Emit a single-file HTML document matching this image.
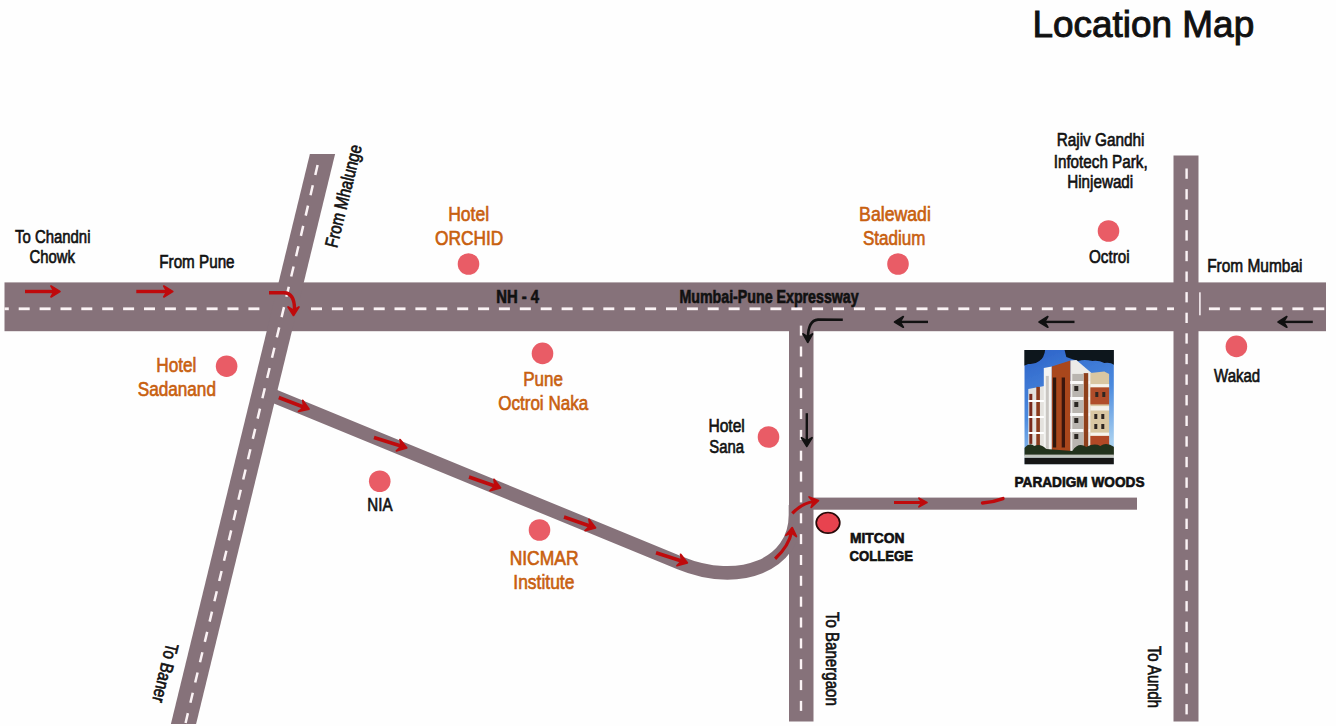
<!DOCTYPE html><html><head><meta charset="utf-8"><title>Location Map</title><style>html,body{margin:0;padding:0;background:#fff;overflow:hidden}svg{display:block}text{font-family:"Liberation Sans",sans-serif}</style></head><body>
<svg width="1336" height="726" viewBox="0 0 1336 726">
<rect width="1336" height="726" fill="#fefefe"/>
<g fill="#86727a">
<rect x="4.5" y="282.4" width="1321.5" height="48.8"/>
<polygon points="309.9,154 335.1,154 196.1,724 170.9,724"/>
<rect x="789" y="320" width="24.5" height="401.5"/>
<rect x="1173.5" y="155.5" width="25" height="566"/>
<rect x="812" y="497.6" width="325" height="12.1"/>
</g>
<path d="M 268,393.6 L 680,563.0 C 739.2,587.3 795.5,565 795.5,515 L 795.5,505" fill="none" stroke="#86727a" stroke-width="13.6"/>
<g fill="#fbf3f5">
<rect x="4.5" y="307.4" width="4.3" height="2.8"/>
<rect x="18.7" y="307.4" width="11.0" height="2.8"/>
<rect x="39.6" y="307.4" width="11.0" height="2.8"/>
<rect x="60.5" y="307.4" width="11.0" height="2.8"/>
<rect x="81.3" y="307.4" width="11.0" height="2.8"/>
<rect x="102.2" y="307.4" width="11.0" height="2.8"/>
<rect x="123.1" y="307.4" width="11.0" height="2.8"/>
<rect x="144.0" y="307.4" width="11.0" height="2.8"/>
<rect x="164.9" y="307.4" width="11.0" height="2.8"/>
<rect x="185.7" y="307.4" width="11.0" height="2.8"/>
<rect x="206.6" y="307.4" width="11.0" height="2.8"/>
<rect x="227.5" y="307.4" width="11.0" height="2.8"/>
<rect x="248.4" y="307.4" width="11.0" height="2.8"/>
<rect x="311.0" y="307.4" width="11.0" height="2.8"/>
<rect x="331.9" y="307.4" width="11.0" height="2.8"/>
<rect x="352.8" y="307.4" width="11.0" height="2.8"/>
<rect x="373.7" y="307.4" width="11.0" height="2.8"/>
<rect x="394.5" y="307.4" width="11.0" height="2.8"/>
<rect x="415.4" y="307.4" width="11.0" height="2.8"/>
<rect x="436.3" y="307.4" width="11.0" height="2.8"/>
<rect x="457.2" y="307.4" width="11.0" height="2.8"/>
<rect x="478.1" y="307.4" width="11.0" height="2.8"/>
<rect x="498.9" y="307.4" width="11.0" height="2.8"/>
<rect x="519.8" y="307.4" width="11.0" height="2.8"/>
<rect x="540.7" y="307.4" width="11.0" height="2.8"/>
<rect x="561.6" y="307.4" width="11.0" height="2.8"/>
<rect x="582.5" y="307.4" width="11.0" height="2.8"/>
<rect x="603.3" y="307.4" width="11.0" height="2.8"/>
<rect x="624.2" y="307.4" width="11.0" height="2.8"/>
<rect x="645.1" y="307.4" width="11.0" height="2.8"/>
<rect x="666.0" y="307.4" width="11.0" height="2.8"/>
<rect x="686.9" y="307.4" width="11.0" height="2.8"/>
<rect x="707.7" y="307.4" width="11.0" height="2.8"/>
<rect x="728.6" y="307.4" width="11.0" height="2.8"/>
<rect x="749.5" y="307.4" width="11.0" height="2.8"/>
<rect x="770.4" y="307.4" width="11.0" height="2.8"/>
<rect x="791.3" y="307.4" width="11.0" height="2.8"/>
<rect x="812.1" y="307.4" width="11.0" height="2.8"/>
<rect x="833.0" y="307.4" width="11.0" height="2.8"/>
<rect x="853.9" y="307.4" width="11.0" height="2.8"/>
<rect x="874.8" y="307.4" width="11.0" height="2.8"/>
<rect x="895.7" y="307.4" width="11.0" height="2.8"/>
<rect x="916.5" y="307.4" width="11.0" height="2.8"/>
<rect x="937.4" y="307.4" width="11.0" height="2.8"/>
<rect x="958.3" y="307.4" width="11.0" height="2.8"/>
<rect x="979.2" y="307.4" width="11.0" height="2.8"/>
<rect x="1000.1" y="307.4" width="11.0" height="2.8"/>
<rect x="1020.9" y="307.4" width="11.0" height="2.8"/>
<rect x="1041.8" y="307.4" width="11.0" height="2.8"/>
<rect x="1062.7" y="307.4" width="11.0" height="2.8"/>
<rect x="1083.6" y="307.4" width="11.0" height="2.8"/>
<rect x="1104.5" y="307.4" width="11.0" height="2.8"/>
<rect x="1125.3" y="307.4" width="11.0" height="2.8"/>
<rect x="1146.2" y="307.4" width="11.0" height="2.8"/>
<rect x="1167.1" y="307.4" width="6.9" height="2.8"/>
<rect x="1208.9" y="307.4" width="11.0" height="2.8"/>
<rect x="1229.7" y="307.4" width="11.0" height="2.8"/>
<rect x="1250.6" y="307.4" width="11.0" height="2.8"/>
<rect x="1271.5" y="307.4" width="11.0" height="2.8"/>
<rect x="1292.4" y="307.4" width="11.0" height="2.8"/>
<rect x="1313.3" y="307.4" width="11.0" height="2.8"/>
<rect x="799.8" y="325.6" width="2.4" height="10.0"/>
<rect x="799.8" y="346.5" width="2.4" height="10.0"/>
<rect x="799.8" y="367.3" width="2.4" height="10.0"/>
<rect x="799.8" y="388.2" width="2.4" height="10.0"/>
<rect x="799.8" y="409.0" width="2.4" height="10.0"/>
<rect x="799.8" y="429.9" width="2.4" height="10.0"/>
<rect x="799.8" y="450.7" width="2.4" height="10.0"/>
<rect x="799.8" y="471.6" width="2.4" height="10.0"/>
<rect x="799.8" y="492.4" width="2.4" height="10.0"/>
<rect x="799.8" y="513.3" width="2.4" height="10.0"/>
<rect x="799.8" y="534.1" width="2.4" height="10.0"/>
<rect x="799.8" y="555.0" width="2.4" height="10.0"/>
<rect x="799.8" y="575.8" width="2.4" height="10.0"/>
<rect x="799.8" y="596.7" width="2.4" height="10.0"/>
<rect x="799.8" y="617.5" width="2.4" height="10.0"/>
<rect x="799.8" y="638.4" width="2.4" height="10.0"/>
<rect x="799.8" y="659.2" width="2.4" height="10.0"/>
<rect x="799.8" y="680.1" width="2.4" height="10.0"/>
<rect x="799.8" y="700.9" width="2.4" height="10.0"/>
<rect x="1185.4" y="168.5" width="2.4" height="10.3"/>
<rect x="1185.4" y="189.1" width="2.4" height="10.3"/>
<rect x="1185.4" y="209.7" width="2.4" height="10.3"/>
<rect x="1185.4" y="230.3" width="2.4" height="10.3"/>
<rect x="1185.4" y="250.9" width="2.4" height="10.3"/>
<rect x="1185.4" y="271.5" width="2.4" height="10.3"/>
<rect x="1185.4" y="292.1" width="2.4" height="10.3"/>
<rect x="1185.4" y="312.7" width="2.4" height="10.3"/>
<rect x="1185.4" y="333.3" width="2.4" height="10.3"/>
<rect x="1185.4" y="353.9" width="2.4" height="10.3"/>
<rect x="1185.4" y="374.5" width="2.4" height="10.3"/>
<rect x="1185.4" y="395.1" width="2.4" height="10.3"/>
<rect x="1185.4" y="415.7" width="2.4" height="10.3"/>
<rect x="1185.4" y="436.3" width="2.4" height="10.3"/>
<rect x="1185.4" y="456.9" width="2.4" height="10.3"/>
<rect x="1185.4" y="477.5" width="2.4" height="10.3"/>
<rect x="1185.4" y="498.1" width="2.4" height="10.3"/>
<rect x="1185.4" y="518.7" width="2.4" height="10.3"/>
<rect x="1185.4" y="539.3" width="2.4" height="10.3"/>
<rect x="1185.4" y="559.9" width="2.4" height="10.3"/>
<rect x="1185.4" y="580.5" width="2.4" height="10.3"/>
<rect x="1185.4" y="601.1" width="2.4" height="10.3"/>
<rect x="1185.4" y="621.7" width="2.4" height="10.3"/>
<rect x="1185.4" y="642.3" width="2.4" height="10.3"/>
<rect x="1185.4" y="662.9" width="2.4" height="10.3"/>
<rect x="1185.4" y="683.5" width="2.4" height="10.3"/>
<rect x="1185.4" y="704.1" width="2.4" height="10.3"/>
<rect x="1199" y="292.3" width="1.8" height="23" fill="#e9dfe3"/>
</g>
<path d="M317.6,165.0 L315.3,175.0 M312.8,185.3 L310.5,195.3 M308.0,205.6 L305.7,215.6 M303.2,225.9 L300.9,235.9 M298.4,246.2 L296.1,256.2 M293.6,266.5 L291.2,276.5 M288.8,286.8 L286.4,296.8 M284.0,307.1 L281.6,317.1 M279.2,327.4 L276.8,337.4 M274.4,347.7 L272.0,357.7 M269.6,368.0 L267.2,378.0 M264.8,388.3 L262.4,398.3 M260.0,408.6 L257.6,418.6 M255.2,428.9 L252.8,438.9 M250.4,449.2 L248.0,459.2 M245.6,469.5 L243.2,479.5 M240.8,489.8 L238.4,499.8 M236.0,510.1 L233.6,520.1 M231.2,530.4 L228.8,540.4 M226.4,550.7 L224.0,560.7 M221.6,571.0 L219.2,581.0 M216.8,591.3 L214.4,601.3 M212.0,611.6 L209.6,621.6 M207.2,631.9 L204.8,641.9 M202.4,652.2 L200.0,662.2 M197.6,672.5 L195.2,682.5 M192.8,692.8 L190.4,702.8 M187.9,713.1 L185.6,723.0" stroke="#fbf3f5" stroke-width="2.5" fill="none"/>
<circle cx="226.6" cy="366.2" r="10.8" fill="#e95c66"/>
<circle cx="468.5" cy="264" r="10.8" fill="#e95c66"/>
<circle cx="542.5" cy="353.4" r="10.8" fill="#e95c66"/>
<circle cx="898" cy="264" r="10.8" fill="#e95c66"/>
<circle cx="1108.5" cy="231" r="10.8" fill="#e95c66"/>
<circle cx="1236.4" cy="346.4" r="10.8" fill="#e95c66"/>
<circle cx="379.75" cy="481.25" r="10.8" fill="#e95c66"/>
<circle cx="539.5" cy="530" r="10.8" fill="#e95c66"/>
<circle cx="768.5" cy="437" r="10.8" fill="#e95c66"/>
<ellipse cx="828" cy="522.8" rx="11.8" ry="10.3" fill="#e8434f" stroke="#2a0a0a" stroke-width="1.7"/>
<line x1="25.0" y1="291.5" x2="54.7" y2="291.5" stroke="#bf0a0c" stroke-width="3.4"/><polygon points="59.9,291.5 51.0,296.9 54.2,291.5 51.0,286.1" fill="#bf0a0c" stroke="#bf0a0c" stroke-width="1.8" stroke-linejoin="round"/>
<line x1="136.3" y1="291.5" x2="167.5" y2="291.5" stroke="#bf0a0c" stroke-width="3.4"/><polygon points="172.7,291.5 163.8,296.9 167.0,291.5 163.8,286.1" fill="#bf0a0c" stroke="#bf0a0c" stroke-width="1.8" stroke-linejoin="round"/>
<line x1="278.8" y1="397.5" x2="304.1" y2="407.2" stroke="#bf0a0c" stroke-width="3.6"/><polygon points="309.0,409.1 298.5,411.4 303.7,407.1 302.8,400.4" fill="#bf0a0c" stroke="#bf0a0c" stroke-width="1.8" stroke-linejoin="round"/>
<line x1="374.0" y1="437.5" x2="401.7" y2="446.3" stroke="#bf0a0c" stroke-width="3.6"/><polygon points="406.7,447.9 396.4,450.8 401.3,446.2 400.0,439.6" fill="#bf0a0c" stroke="#bf0a0c" stroke-width="1.8" stroke-linejoin="round"/>
<line x1="469.0" y1="477.0" x2="495.5" y2="486.2" stroke="#bf0a0c" stroke-width="3.6"/><polygon points="500.5,487.9 490.1,490.6 495.1,486.0 494.0,479.4" fill="#bf0a0c" stroke="#bf0a0c" stroke-width="1.8" stroke-linejoin="round"/>
<line x1="564.0" y1="517.0" x2="590.5" y2="526.2" stroke="#bf0a0c" stroke-width="3.6"/><polygon points="595.5,527.9 585.1,530.6 590.1,526.0 589.0,519.4" fill="#bf0a0c" stroke="#bf0a0c" stroke-width="1.8" stroke-linejoin="round"/>
<line x1="656.0" y1="552.7" x2="682.3" y2="561.2" stroke="#bf0a0c" stroke-width="3.6"/><polygon points="687.3,562.8 677.0,565.7 681.8,561.0 680.6,554.4" fill="#bf0a0c" stroke="#bf0a0c" stroke-width="1.8" stroke-linejoin="round"/>
<line x1="894.0" y1="502.5" x2="922.7" y2="502.5" stroke="#bf0a0c" stroke-width="3"/><polygon points="926.9,502.5 919.0,506.8 922.2,502.5 919.0,498.2" fill="#bf0a0c" stroke="#bf0a0c" stroke-width="1.8" stroke-linejoin="round"/>
<line x1="928.0" y1="321.9" x2="899.6" y2="321.9" stroke="#111" stroke-width="2.4"/><polygon points="894.6,321.9 903.3,316.6 900.1,321.9 903.3,327.2" fill="#111" stroke="#111" stroke-width="1.8" stroke-linejoin="round"/>
<line x1="1074.5" y1="321.9" x2="1044.1" y2="321.9" stroke="#111" stroke-width="2.4"/><polygon points="1039.1,321.9 1047.8,316.6 1044.6,321.9 1047.8,327.2" fill="#111" stroke="#111" stroke-width="1.8" stroke-linejoin="round"/>
<line x1="1312.8" y1="321.9" x2="1283.1" y2="321.9" stroke="#111" stroke-width="2.4"/><polygon points="1278.1,321.9 1286.8,316.6 1283.6,321.9 1286.8,327.2" fill="#111" stroke="#111" stroke-width="1.8" stroke-linejoin="round"/>
<line x1="806.8" y1="413.2" x2="806.8" y2="441.4" stroke="#111" stroke-width="2.4"/><polygon points="806.8,446.4 801.5,437.7 806.8,440.9 812.0,437.7" fill="#111" stroke="#111" stroke-width="1.8" stroke-linejoin="round"/>
<path d="M269,292.7 L284,292.7 Q294.5,293 294.5,309" fill="none" stroke="#bf0a0c" stroke-width="3.4"/>
<polygon points="293.5,315.4 288.1,307.0 293.5,310.2 298.9,307.0" fill="#bf0a0c" stroke="#bf0a0c" stroke-width="1.8" stroke-linejoin="round"/>
<path d="M842.8,319.8 L818,319.6 Q808,320.5 808,338" fill="none" stroke="#111" stroke-width="2.6"/>
<polygon points="807.8,342.3 803.1,333.9 807.8,337.1 812.5,333.9" fill="#111" stroke="#111" stroke-width="1.8" stroke-linejoin="round"/>
<path d="M775.1,558.8 Q789,546 791.8,531" fill="none" stroke="#bf0a0c" stroke-width="3.2"/>
<polygon points="792.2,527.6 796.4,536.5 791.5,532.7 785.9,535.3" fill="#bf0a0c" stroke="#bf0a0c" stroke-width="1.8" stroke-linejoin="round"/>
<path d="M792.3,513.4 Q802,503 814,501.5" fill="none" stroke="#bf0a0c" stroke-width="3.2"/>
<polygon points="818.4,500.5 811.2,507.4 813.3,501.6 809.1,497.0" fill="#bf0a0c" stroke="#bf0a0c" stroke-width="1.8" stroke-linejoin="round"/>
<path d="M982.5,503 Q993,502.3 1003,498.6" fill="none" stroke="#bf0a0c" stroke-width="3.4" stroke-linecap="round"/>
<defs><filter id="bl" x="-5%" y="-5%" width="110%" height="110%"><feGaussianBlur stdDeviation="0.55"/></filter><linearGradient id="sky" x1="0" y1="0" x2="0.3" y2="1"><stop offset="0" stop-color="#2c62c8"/><stop offset="0.55" stop-color="#4b8ade"/><stop offset="1" stop-color="#a8d0f0"/></linearGradient><clipPath id="bc"><rect width="89.6" height="114.6"/></clipPath></defs>
<g transform="translate(1024.3,349.9)"><g clip-path="url(#bc)"><g filter="url(#bl)">
<rect x="0" y="0" width="89.6" height="114.6" fill="url(#sky)"/>
<path d="M-1,-1 H21 Q20,8 15,11 Q10,15 4,14 L-1,16Z" fill="#0e131b"/>
<path d="M40,-1 H90 V15 Q86,12 80,13 Q74,10 68,11 Q60,9 54,11 Q47,9 42,7Z" fill="#10161f"/>
<path d="M4,39 L20,36 L20,104 L4,104Z" fill="#e4e2de"/>
<rect x="12" y="37" width="3.6" height="67" fill="#8a3a1c"/>
<rect x="5" y="44" width="3" height="50" fill="#7a2c1a"/>
<path d="M4,50h16v2h-16zM4,66h16v2h-16zM4,82h16v2h-16z" fill="#ffffff"/>
<path d="M19.5,18 L27.5,16.5 L27.5,104 L19.5,104Z" fill="#f4f4f2"/>
<rect x="21.5" y="26" width="3" height="78" fill="#c9c6c2"/>
<path d="M27.5,16.5 L46.2,10.5 L46.2,104 L27.5,104Z" fill="#a9461c"/>
<rect x="28.6" y="27.6" width="3.3" height="70" fill="#2e140b"/>
<rect x="37.4" y="27.6" width="3.3" height="70" fill="#3a180c"/>
<path d="M46.2,10.5 L52,10 L67.2,23 L67.2,104 L46.2,104Z" fill="#ecebe8"/>
<rect x="48" y="24" width="11" height="78" fill="#b9b5b0"/>
<path d="M46,31h20v3h-20zM46,47h20v3h-20zM46,63h20v3h-20zM46,79h20v3h-20z" fill="#fafafa"/>
<path d="M50,36h4v5h-4zM50,52h4v5h-4zM50,68h4v5h-4zM50,84h4v5h-4z" fill="#2a2622"/>
<rect x="59.4" y="23.2" width="4.5" height="78" fill="#8e3f1e"/>
<path d="M66.1,23 L80,21.5 L84.8,24 L84.8,104 L66.1,104Z" fill="#d9c7a2"/>
<rect x="66.1" y="34.2" width="18.7" height="3.3" fill="#f6f3ec"/>
<rect x="66.1" y="37.5" width="18.7" height="17" fill="#b04e2a"/>
<rect x="66.1" y="56.2" width="18.7" height="4.4" fill="#f4f1ea"/>
<rect x="66.1" y="82.7" width="18.7" height="3.3" fill="#f6f3ec"/>
<rect x="66.1" y="86" width="18.7" height="12" fill="#b24a26"/>
<path d="M70,64h3v5h-3zM77,64h3v5h-3zM70,74h3v5h-3zM77,74h3v5h-3zM71,42h3v5h-3zM78,42h3v5h-3z" fill="#2e2622"/>
<path d="M0,98 Q5,92 10,96 Q16,93 22,99 L48,101 Q54,92 62,97 Q70,93 76,96 Q82,92 90,97 V106 H0Z" fill="#22301c"/>
<rect x="0" y="104.7" width="89.6" height="3.3" fill="#c2c6bf"/>
<rect x="0" y="108" width="89.6" height="6.6" fill="#131415"/>
</g></g></g>
<text transform="translate(1032.43,37.2) scale(0.9825,1)" font-size="37.6" font-weight="normal" fill="#111111" stroke="#111111" stroke-width="1.00">Location Map</text>
<text transform="translate(15.0,242.5) scale(0.8152,1)" font-size="18.3" font-weight="normal" fill="#111111" stroke="#111111" stroke-width="0.65">To Chandni</text>
<text transform="translate(29.5,263) scale(0.8125,1)" font-size="18.3" font-weight="normal" fill="#111111" stroke="#111111" stroke-width="0.65">Chowk</text>
<text transform="translate(159.27,267.9) scale(0.8326,1)" font-size="18.3" font-weight="normal" fill="#111111" stroke="#111111" stroke-width="0.65">From Pune</text>
<text transform="translate(156.25,371.9) scale(0.8522,1)" font-size="20.2" font-weight="normal" fill="#c8600f" stroke="#c8600f" stroke-width="0.65">Hotel</text>
<text transform="translate(137.7,396.1) scale(0.8495,1)" font-size="20.2" font-weight="normal" fill="#c8600f" stroke="#c8600f" stroke-width="0.65">Sadanand</text>
<text transform="translate(448.13,220.5) scale(0.8696,1)" font-size="20.2" font-weight="normal" fill="#c8600f" stroke="#c8600f" stroke-width="0.65">Hotel</text>
<text transform="translate(435.0,244.5) scale(0.8576,1)" font-size="20.2" font-weight="normal" fill="#c8600f" stroke="#c8600f" stroke-width="0.65">ORCHID</text>
<text transform="translate(496.19,302.5) scale(0.8113,1)" font-size="18.3" font-weight="bold" fill="#111111" stroke="#111111" stroke-width="0.65">NH - 4</text>
<text transform="translate(679.42,302.8) scale(0.777,1)" font-size="18.3" font-weight="bold" fill="#111111" stroke="#111111" stroke-width="0.65">Mumbai-Pune Expressway</text>
<text transform="translate(859.12,220.5) scale(0.875,1)" font-size="20.2" font-weight="normal" fill="#c8600f" stroke="#c8600f" stroke-width="0.65">Balewadi</text>
<text transform="translate(863.0,244.5) scale(0.8446,1)" font-size="20.2" font-weight="normal" fill="#c8600f" stroke="#c8600f" stroke-width="0.65">Stadium</text>
<text transform="translate(1056.66,146) scale(0.8398,1)" font-size="18.3" font-weight="normal" fill="#111111" stroke="#111111" stroke-width="0.65">Rajiv Gandhi</text>
<text transform="translate(1053.67,167.5) scale(0.8333,1)" font-size="18.3" font-weight="normal" fill="#111111" stroke="#111111" stroke-width="0.65">Infotech Park,</text>
<text transform="translate(1067.17,187.5) scale(0.8333,1)" font-size="18.3" font-weight="normal" fill="#111111" stroke="#111111" stroke-width="0.65">Hinjewadi</text>
<text transform="translate(1089.0,263) scale(0.8333,1)" font-size="18.3" font-weight="normal" fill="#111111" stroke="#111111" stroke-width="0.65">Octroi</text>
<text transform="translate(1207.16,271.75) scale(0.8446,1)" font-size="18.3" font-weight="normal" fill="#111111" stroke="#111111" stroke-width="0.65">From Mumbai</text>
<text transform="translate(1214.1,382.3) scale(0.8196,1)" font-size="18.3" font-weight="normal" fill="#111111" stroke="#111111" stroke-width="0.65">Wakad</text>
<text transform="translate(523.26,386.3) scale(0.8435,1)" font-size="20.2" font-weight="normal" fill="#c8600f" stroke="#c8600f" stroke-width="0.65">Pune</text>
<text transform="translate(498.2,409.6) scale(0.8439,1)" font-size="20.2" font-weight="normal" fill="#c8600f" stroke="#c8600f" stroke-width="0.65">Octroi Naka</text>
<text transform="translate(367.27,510.5) scale(0.8267,1)" font-size="18.3" font-weight="normal" fill="#111111" stroke="#111111" stroke-width="0.65">NIA</text>
<text transform="translate(509.63,564.8) scale(0.8654,1)" font-size="20.2" font-weight="normal" fill="#c8600f" stroke="#c8600f" stroke-width="0.65">NICMAR</text>
<text transform="translate(513.34,589) scale(0.8629,1)" font-size="20.2" font-weight="normal" fill="#c8600f" stroke="#c8600f" stroke-width="0.65">Institute</text>
<text transform="translate(708.4,431.5) scale(0.8537,1)" font-size="18.3" font-weight="normal" fill="#111111" stroke="#111111" stroke-width="0.65">Hotel</text>
<text transform="translate(709.25,452.5) scale(0.814,1)" font-size="18.3" font-weight="normal" fill="#111111" stroke="#111111" stroke-width="0.65">Sana</text>
<text transform="translate(849.9,543.3) scale(0.9237,1)" font-size="15.0" font-weight="bold" fill="#111111" stroke="#111111" stroke-width="0.65">MITCON</text>
<text transform="translate(849.6,561.2) scale(0.874,1)" font-size="15.0" font-weight="bold" fill="#111111" stroke="#111111" stroke-width="0.65">COLLEGE</text>
<text transform="translate(1014.5,487) scale(0.9091,1)" font-size="15.0" font-weight="bold" fill="#111111" stroke="#111111" stroke-width="0.65">PARADIGM WOODS</text>
<text transform="translate(337.01,248.40) rotate(-76.3) scale(0.8189,1)" font-size="18.3" fill="#111111" stroke="#111111" stroke-width="0.65">From Mhalunge</text>
<text transform="translate(166.40,642.30) rotate(103.7) scale(0.8243,1)" font-size="18.3" fill="#111111" stroke="#111111" stroke-width="0.65">To Baner</text>
<text transform="translate(825.70,611.90) rotate(90) scale(0.8246,1)" font-size="18.3" fill="#111111" stroke="#111111" stroke-width="0.65">To Banergaon</text>
<text transform="translate(1147.80,645.90) rotate(90) scale(0.8158,1)" font-size="18.3" fill="#111111" stroke="#111111" stroke-width="0.65">To Aundh</text>
</svg></body></html>
